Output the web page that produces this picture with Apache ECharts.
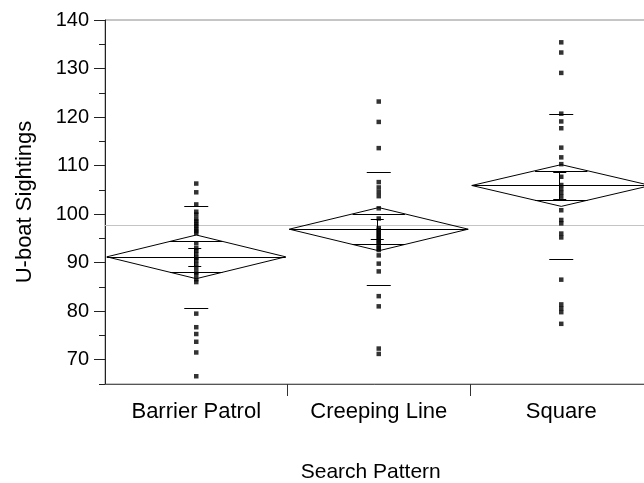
<!DOCTYPE html>
<html>
<head>
<meta charset="utf-8">
<script src="https://cdn.jsdelivr.net/npm/echarts@6/dist/echarts.min.js"></script>
<style>
  html, body { margin: 0; padding: 0; background: #fff; }
  #chart { width: 644px; height: 483px; }
</style>
</head>
<body>
<div id="chart"></div>
<script>
/* ---- data (oneway means diamonds) ---- */
const categories = ['Barrier Patrol', 'Creeping Line', 'Square'];

const barrierPatrol = [106.3, 104.5, 102.0, 100.5, 99.9, 99.0, 98.5, 98.0, 97.5, 97.0, 96.5, 96.1,
  94.0, 93.0, 92.5, 91.8, 91.0, 90.5, 89.7, 88.9, 88.0, 87.5, 86.6, 86.0,
  79.5, 76.7, 75.3, 73.7, 71.5, 66.6];
const creepingLine = [123.2, 119.0, 113.6, 106.6, 105.5, 104.6, 103.7, 101.2, 99.1, 97.1, 96.7, 96.2,
  95.8, 95.3, 94.9, 94.4, 94.0, 93.5, 93.0, 92.6, 91.5, 89.8, 88.2, 83.1, 81.0, 72.3, 71.2];
const square = [135.4, 133.3, 129.1, 120.7, 119.1, 117.7, 113.7, 111.7, 110.3, 107.7, 106.0, 105.2,
  104.4, 103.6, 100.8, 98.8, 98.1, 96.0, 95.2, 86.5, 81.4, 80.6, 79.8, 77.4];

const groupMeans = [91.2, 96.9, 105.9];
const ciHalf = [4.5, 4.45, 4.3];      // 95% diamond half height
const sdUpper = [101.7, 108.7, 120.7];
const sdLower = [80.7, 85.4, 90.8];
const seHalf = [1.9, 2.1, 2.7];       // mean error bars
const grandMean = 97.8;

const yMajorTicks = [70, 80, 90, 100, 110, 120, 130, 140];
const xBoundaries = [1, 2];
const xLabelPos = [0.5, 1.5, 2.5];

/* ---- build series data ---- */
const groups = [barrierPatrol, creepingLine, square];
const pointData = [];
groups.forEach((vals, i) => vals.forEach(v => pointData.push([i + 0.5, v])));

const diamondData = categories.map((c, i) =>
  [i, groupMeans[i], ciHalf[i], sdUpper[i], sdLower[i], seHalf[i]]);

const FONT = 'Liberation Sans, Arial, sans-serif';
const LINE = { stroke: '#000', lineWidth: 1, fill: null };

function crisp(v) { return Math.round(v) + 0.5; }

function hLine(x1, x2, y, style) {
  return { type: 'line', shape: { x1: x1, y1: crisp(y), x2: x2, y2: crisp(y) }, style: style || LINE };
}

function renderDiamond(params, api) {
  const i = api.value(0), m = api.value(1), ci = api.value(2);
  const sdU = api.value(3), sdL = api.value(4), se = api.value(5);
  const cx = i + 0.5, hw = 0.49;

  const L = api.coord([cx - hw, m]);
  const R = api.coord([cx + hw, m]);
  const T = api.coord([cx, m + ci]);
  const B = api.coord([cx, m - ci]);
  const c = T[0];

  const children = [];
  children.push({ type: 'polygon', shape: { points: [L, T, R, B] }, style: LINE });
  children.push(hLine(L[0], R[0], L[1]));

  // overlap marks: chords at mean +/- ci/sqrt2
  const d = ci / Math.SQRT2;
  const ow = (R[0] - L[0]) / 2 * (1 - 1 / Math.SQRT2);
  [m + d, m - d].forEach(v => {
    const y = api.coord([cx, v])[1];
    children.push(hLine(c - ow, c + ow, y));
  });

  // std dev lines
  [sdU, sdL].forEach(v => {
    const y = api.coord([cx, v])[1];
    children.push(hLine(c - 12, c + 12, y));
  });

  // mean error bars
  const yt = api.coord([cx, m + se])[1];
  const yb = api.coord([cx, m - se])[1];
  const ex = crisp(c - 2);
  children.push({ type: 'line', shape: { x1: ex, y1: crisp(yt), x2: ex, y2: crisp(yb) }, style: LINE });
  children.push(hLine(c - 8, c + 5, yt));
  children.push(hLine(c - 8, c + 5, yb));

  return { type: 'group', children: children };
}

const chart = echarts.init(document.getElementById('chart'));

chart.setOption({
  animation: false,
  backgroundColor: '#fff',
  grid: {
    left: 105, top: 20, right: -8.5, bottom: 99,
    outerBoundsMode: 'none',
    show: true, borderColor: '#8c8c8c', borderWidth: 1
  },
  xAxis: {
    type: 'value', min: 0, max: 3,
    name: 'Search Pattern', nameLocation: 'middle', nameGap: 78,
    nameTextStyle: { fontFamily: FONT, fontSize: 21, color: '#000', padding: [0, 16, 0, 0] },
    axisLine: { lineStyle: { color: '#555', width: 1 } },
    axisTick: { customValues: xBoundaries, length: 12, lineStyle: { color: '#333' } },
    axisLabel: {
      customValues: xLabelPos, margin: 17,
      fontFamily: FONT, fontSize: 22, color: '#000',
      formatter: v => categories[Math.floor(v)]
    },
    splitLine: { show: false }
  },
  yAxis: [
    {
      type: 'value', min: 65, max: 140, interval: 5,
      name: 'U-boat Sightings', nameLocation: 'middle', nameGap: 69,
      nameTextStyle: { fontFamily: FONT, fontSize: 22, color: '#000' },
      axisLine: { show: true, lineStyle: { color: '#222', width: 1 } },
      axisTick: { show: true, length: 6, lineStyle: { color: '#222' } },
      axisLabel: {
        margin: 16, fontFamily: FONT, fontSize: 20, color: '#000',
        formatter: v => (yMajorTicks.indexOf(v) >= 0 ? String(v) : '')
      },
      splitLine: { show: false }
    },
    {
      type: 'value', min: 65, max: 140, position: 'left',
      axisLine: { show: false },
      axisTick: { show: true, customValues: yMajorTicks, length: 11, lineStyle: { color: '#222' } },
      axisLabel: { show: false },
      splitLine: { show: false }
    }
  ],
  series: [
    {
      type: 'custom',
      renderItem: renderDiamond,
      data: diamondData,
      z: 3,
      silent: true
    },
    {
      type: 'scatter',
      symbol: 'rect',
      symbolSize: 4.5,
      itemStyle: { color: '#000' },
      data: pointData,
      z: 4,
      silent: true,
      markLine: {
        silent: true,
        symbol: ['none', 'none'],
        label: { show: false },
        lineStyle: { color: '#c4c4c4', type: 'solid', width: 1 },
        data: [{ yAxis: grandMean }],
        z: 1
      }
    }
  ]
});
</script>
</body>
</html>
